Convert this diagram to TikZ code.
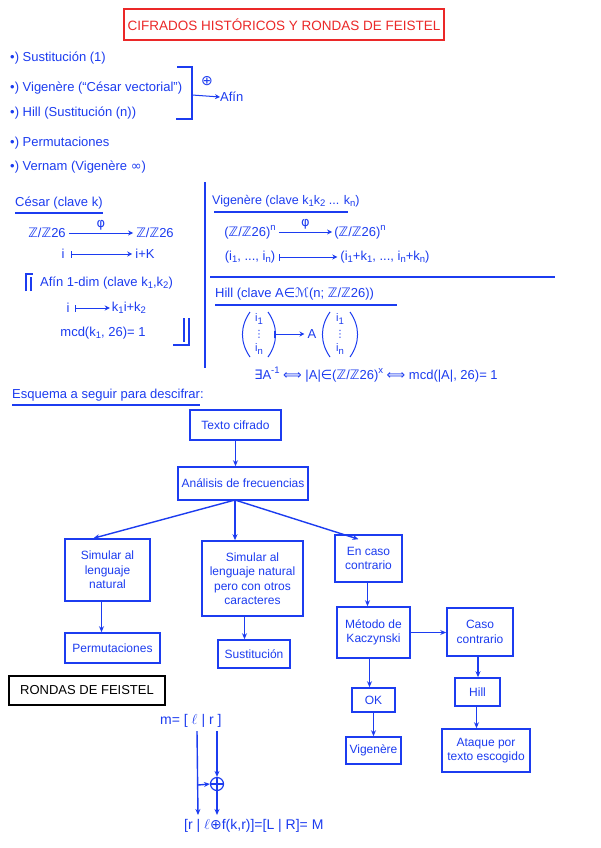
\documentclass[tikz,border=0pt]{standalone}
\usepackage{amsmath,amssymb}
\usepackage{fontspec}
\setmainfont{Liberation Sans}
\newfontfamily\sym{DejaVu Sans}
\usetikzlibrary{arrows.meta}
\definecolor{hb}{RGB}{28,60,240}
\definecolor{hred}{RGB}{235,40,40}
\newcommand{\ZZ}{{\sym ℤ}/{\sym ℤ}26}
\newcommand{\sbx}[1]{\raisebox{-0.35ex}{\fontsize{9.5}{10}\selectfont #1}}
\newcommand{\spx}[1]{\raisebox{0.9ex}{\fontsize{9.5}{10}\selectfont #1}}
\begin{document}
\begin{tikzpicture}[x=1pt,y=-1pt,
  txt/.style={text=hb,inner sep=0pt,font=\fontsize{13}{15}\selectfont},
  wtxt/.style={txt,anchor=west},
  fbox/.style={draw=hb,line width=1.6pt,text=hb,align=center,inner sep=1pt,font=\fontsize{12}{14.5}\selectfont},
  arr/.style={-{Stealth[length=6pt,width=5pt]},draw=hb,line width=1.4pt},
  ln/.style={draw=hb,line width=1.2pt},
  mto/.style={{Bar[width=7pt]}-{Stealth[length=5pt,width=5pt]},draw=hb,line width=1pt},
  fto/.style={-{Stealth[length=5pt,width=5pt]},draw=hb,line width=1pt}]
\useasboundingbox (0,0) rectangle (600,848);
\fill[white] (0,0) rectangle (600,848);
% title
\node[draw=hred,line width=1.3pt,text=hred,minimum width=320pt,minimum height=31pt,inner sep=0pt,font=\fontsize{13.5}{15}\selectfont] (title) at (284,24.5) {CIFRADOS HISTÓRICOS Y RONDAS DE FEISTEL};
% list
\node[wtxt] (l1) at (10,58) {•) Sustitución (1)};
\node[wtxt] (l2) at (10,88) {•) Vigenère (“César vectorial”)};
\node[wtxt] (l3) at (10,113) {•) Hill (Sustitución (n))};
\node[wtxt] (l4) at (10,143) {•) Permutaciones};
\node[wtxt] (l5) at (10,167) {•) Vernam (Vigenère {\sym ∞})};
\draw[ln] (177,67) -- (192,67) -- (192,119) -- (176,119);
\node[txt,font=\sym\fontsize{14}{16}\selectfont] (plus) at (207,81) {⊕};
\node[wtxt] (afin) at (220,97) {Afín};
\draw[fto] (192,95) -- (afin.west);
% Cesar
\node[wtxt] (ces) at (15,203) {César (clave k)};
\draw[ln] (15,213) -- (103,213);
\node[txt] (z1) at (47,233) {\ZZ};
\node[txt] (z2) at (155,233) {\ZZ};
\draw[fto] ([xshift=3pt]z1.east) -- node[above=2pt,txt] {{\sym φ}} ([xshift=-3pt]z2.west);
\node[txt] (i1) at (63,254) {i};
\node[txt] (ik) at (145,254) {i+K};
\draw[mto] ([xshift=6pt]i1.east) -- ([xshift=-3pt]ik.west);
\draw[ln] (26,291) -- (26,274) -- (33,274);
\draw[ln] (31,291) -- (31,277);
\node[wtxt] (af1) at (40,283) {Afín 1-dim (clave k\sbx{1},k\sbx{2})};
\node[txt] (i2) at (68,308) {i};
\node[txt] (kk) at (129,308) {k\sbx{1}i+k\sbx{2}};
\draw[mto] ([xshift=5pt]i2.east) -- ([xshift=-2pt]kk.west);
\node[txt] (mcd) at (103,333) {mcd(k\sbx{1}, 26)= 1};
\draw[ln] (184,318) -- (184,342);
\draw[ln] (189,318) -- (189,345) -- (173,345);
\draw[ln] (205,182) -- (205,368);
% Vigenere
\node[wtxt,font=\fontsize{12.5}{14}\selectfont] (vig) at (212,201) {Vigenère (clave k\sbx{1}k\sbx{2} ... k\sbx{n})};
\draw[ln] (214,212) -- (348,212);
\node[txt] (v1) at (250,232) {(\ZZ)\spx{n}};
\node[txt] (v2) at (360,232) {(\ZZ)\spx{n}};
\draw[fto] ([xshift=3pt]v1.east) -- node[above=2pt,txt] {{\sym φ}} ([xshift=-2pt]v2.west);
\node[txt] (w1) at (250,257) {(i\sbx{1}, ..., i\sbx{n})};
\node[txt] (w2) at (385,257) {(i\sbx{1}+k\sbx{1}, ..., i\sbx{n}+k\sbx{n})};
\draw[mto] ([xshift=4pt]w1.east) -- ([xshift=-3pt]w2.west);
\draw[ln] (210,277) -- (555,277);
% Hill
\node[wtxt] (hill) at (215,294) {Hill (clave A{\sym ∈}{\sym ℳ}(n; \ZZ))};
\draw[ln] (215,305) -- (397,305);
% vector 1
\node[txt,font=\fontsize{11}{13}\selectfont] (a1) at (259,319) {i\sbx{1}};
\node[txt,font=\sym\fontsize{10}{12}\selectfont] (a2) at (259,334) {⋮};
\node[txt,font=\fontsize{11}{13}\selectfont] (a3) at (259,349) {i\sbx{n}};
\draw[ln,line width=1pt] (250,312) to[bend right=35] (250,357);
\draw[ln,line width=1pt] (268,312) to[bend left=35] (268,357);
\node[txt] (amat) at (312,334) {A};
% vector 2
\node[txt,font=\fontsize{11}{13}\selectfont] (b1) at (340,319) {i\sbx{1}};
\node[txt,font=\sym\fontsize{10}{12}\selectfont] (b2) at (340,334) {⋮};
\node[txt,font=\fontsize{11}{13}\selectfont] (b3) at (340,349) {i\sbx{n}};
\draw[ln,line width=1pt] (330,312) to[bend right=35] (330,357);
\draw[ln,line width=1pt] (350,312) to[bend left=35] (350,357);
\coordinate (vec1e) at (274,334);
\draw[mto] (vec1e) -- ([xshift=-3pt]amat.west);
\node[txt] (inv) at (376,375) {{\sym ∃}A\spx{-1} {\sym ⟺} |A|{\sym ∈}(\ZZ)\spx{x} {\sym ⟺} mcd(|A|, 26)= 1};
% Esquema
\node[wtxt] (esq) at (12,395) {Esquema a seguir para descifrar:};
\draw[ln] (12,405) -- (200,405);
\node[fbox,minimum width=91pt,minimum height=30pt] (tc) at (235.5,425) {Texto cifrado};
\node[fbox,minimum width=130pt,minimum height=33pt] (ana) at (243,483.5) {Análisis de frecuencias};
\node[fbox,minimum width=85pt,minimum height=62pt] (sim1) at (107.5,570) {Simular al\\lenguaje\\natural};
\node[fbox,minimum width=101pt,minimum height=75pt] (sim2) at (252.5,578.5) {Simular al\\lenguaje natural\\pero con otros\\caracteres};
\node[fbox,minimum width=67pt,minimum height=47pt] (enc) at (368.5,558.5) {En caso\\contrario};
\node[fbox,minimum width=95pt,minimum height=30pt] (perm) at (112.5,648) {Permutaciones};
\node[fbox,minimum width=72pt,minimum height=28pt] (sust) at (254,654) {Sustitución};
\node[fbox,minimum width=73pt,minimum height=51pt] (met) at (373.5,632.5) {Método de\\Kaczynski};
\node[fbox,minimum width=66pt,minimum height=48pt] (cc) at (480,632) {Caso\\contrario};
\node[fbox,minimum width=43pt,minimum height=24pt] (ok) at (373.5,700) {OK};
\node[fbox,minimum width=45pt,minimum height=28pt] (hb2) at (477.5,692) {Hill};
\node[fbox,minimum width=55pt,minimum height=27pt] (vg) at (373.5,750.5) {Vigenère};
\node[fbox,minimum width=88pt,minimum height=43pt] (atq) at (486,750.5) {Ataque por\\texto escogido};
\coordinate (split) at (235,500);
\draw[arr] (tc.south) -- (tc.south |- ana.north);
\draw[arr] (split) -- ([xshift=-14pt]sim1.north);
\draw[arr] (split) -- (split |- sim2.north);
\draw[arr] (split) -- ([xshift=-10pt,yshift=-5pt]enc.north);
\draw[arr] ([xshift=-6pt]sim1.south) -- ([xshift=-6pt]sim1.south |- perm.north);
\draw[arr] ([xshift=-8pt]sim2.south) -- ([xshift=-8pt]sim2.south |- sust.north);
\draw[arr] ([xshift=-1pt]enc.south) -- ([xshift=-1pt]enc.south |- met.north);
\draw[arr] ([xshift=-4pt]met.south) -- ([xshift=-4pt]met.south |- ok.north);
\draw[arr] (met.east) -- (met.east -| cc.west);
\draw[arr] ([xshift=-2pt]cc.south) -- ([xshift=-2pt]cc.south |- hb2.north);
\draw[arr] ([xshift=-1pt]hb2.south) -- ([xshift=-1pt]hb2.south |- atq.north);
\draw[arr] (ok.south) -- (ok.south |- vg.north);
% Feistel
\node[draw=black,line width=1.3pt,minimum width=156pt,minimum height=29pt,inner sep=0pt,font=\fontsize{13}{15}\selectfont] (rf) at (87,690.5) {RONDAS DE FEISTEL};
\node[wtxt,font=\fontsize{14}{16}\selectfont] (m) at (160,721) {m= [ $\ell$ | r ]};
\coordinate (lt) at (197,731);
\coordinate (rt) at (217,731);
\coordinate (br) at (198,785);
\node[circle,draw=hb,line width=1.2pt,minimum size=13pt,inner sep=0pt] (xor) at (217,784) {};
\draw[ln] (xor.north) -- (xor.south) (xor.west) -- (xor.east);
\node[wtxt,font=\fontsize{14}{16}\selectfont] (res) at (184,826) {[r | $\ell${\sym ⊕}f(k,r)]=[L | R]= M};
\draw[arr] (lt) -- (198,815);
\draw[arr] (rt) -- (xor.north);
\draw[arr] (br) -- (xor.west);
\draw[arr] (xor.south) -- (217,815);
\end{tikzpicture}
\end{document}
